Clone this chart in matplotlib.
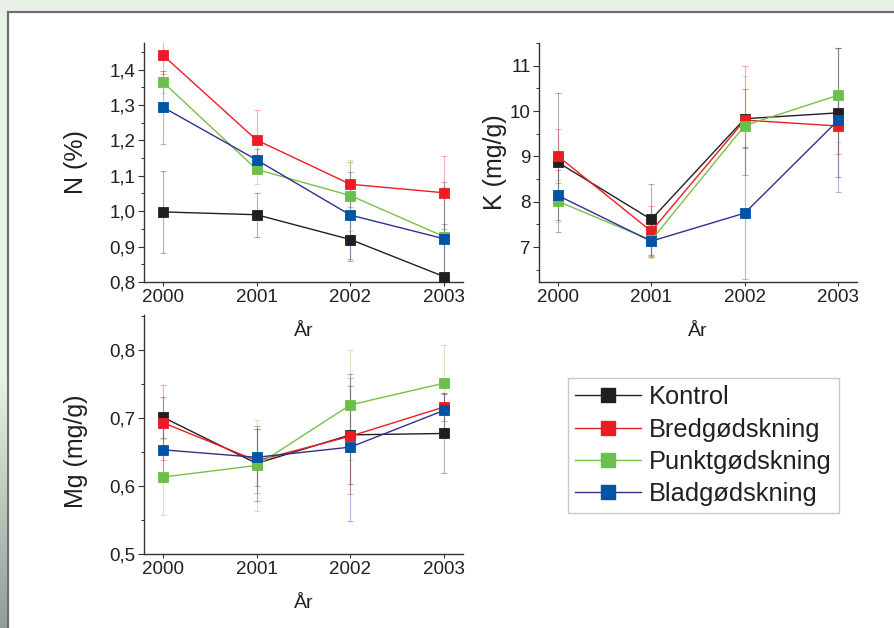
import numpy as np
import matplotlib
matplotlib.use("Agg")
import matplotlib.pyplot as plt
from matplotlib.patches import Rectangle
from matplotlib.lines import Line2D
from matplotlib.ticker import AutoMinorLocator, FuncFormatter, MultipleLocator

plt.rcParams['font.family'] = ['Liberation Sans', 'DejaVu Sans']

years = [2000, 2001, 2002, 2003]
series = ["Kontrol", "Bredgødskning", "Punktgødskning", "Bladgødskning"]
marker_colors = ["#231f20", "#ed1c24", "#6dbf4b", "#0054a6"]
line_colors = ["#231f20", "#ed1c24", "#7ac143", "#2e3192"]

# N (%)
n_vals = [[0.998, 0.990, 0.920, 0.815],
          [1.441, 1.201, 1.076, 1.052],
          [1.365, 1.118, 1.044, 0.928],
          [1.294, 1.145, 0.989, 0.922]]
n_err = [[0.115, 0.062, 0.060, 0.150],
         [0.053, 0.085, 0.064, 0.103],
         [0.030, 0.040, 0.100, 0.140],
         [0.103, 0.032, 0.123, 0.160]]

# K (mg/g)
k_vals = [[8.87, 7.61, 9.83, 9.96],
          [9.01, 7.35, 9.80, 9.67],
          [8.01, 7.15, 9.68, 10.35],
          [8.14, 7.13, 7.75, 9.80]]
k_err = [[1.53, 0.78, 0.65, 1.42],
         [0.60, 0.55, 1.20, 0.62],
         [0.46, 0.40, 1.10, 1.03],
         [0.55, 0.35, 1.45, 1.58]]

# Mg (mg/g)
mg_vals = [[0.701, 0.633, 0.675, 0.677],
           [0.693, 0.637, 0.673, 0.716],
           [0.613, 0.630, 0.719, 0.751],
           [0.653, 0.642, 0.657, 0.711]]
mg_err = [[0.030, 0.055, 0.072, 0.058],
          [0.055, 0.047, 0.085, 0.020],
          [0.056, 0.067, 0.081, 0.056],
          [0.047, 0.042, 0.108, 0.026]]

W, H = 895, 628
fig = plt.figure(figsize=(W / 100, H / 100), dpi=100)
fig.patch.set_facecolor("#e8f2e6")

# white panel with grey frame
fig.patches.append(Rectangle((8 / W, -0.01), 1.0, 1 - 12 / H + 0.01, transform=fig.transFigure,
                             facecolor="white", edgecolor="#6e6e6e", lw=1.6, zorder=-5))
# greyish texture on the left edge
strip = fig.add_axes([0, 0, 7 / W, 250 / H])
grad = np.linspace(0, 1, 100).reshape(-1, 1)
strip.imshow(grad, aspect="auto", cmap=matplotlib.colors.LinearSegmentedColormap.from_list(
    "s", ["#8f9e96", "#e8f2e6"]), origin="lower")
strip.axis("off")


def comma_fmt(dec):
    return FuncFormatter(lambda v, p: f"{v:.{dec}f}".replace(".", ","))


def panel(rect, vals, errs, ylim, ylabel, major, fmt, label_xy):
    ax = fig.add_axes(rect)
    ax.patch.set_alpha(0)
    for i in range(len(series)):
        ax.errorbar(years, vals[i], yerr=errs[i], fmt="none", ecolor=line_colors[i],
                    elinewidth=0.8, capsize=2, capthick=0.8, alpha=0.35, zorder=2)
        ax.plot(years, vals[i], color=line_colors[i], lw=1.0, marker="s", ms=6.5,
                mfc=marker_colors[i], mec=marker_colors[i], mew=0.6, zorder=3)
    ax.set_xlim(1999.8, 2003.2)
    ax.set_ylim(*ylim)
    ax.set_xticks(years)
    ax.yaxis.set_major_locator(MultipleLocator(major))
    ax.yaxis.set_minor_locator(AutoMinorLocator(2))
    if fmt is not None:
        ax.yaxis.set_major_formatter(fmt)
    for s in ["top", "right"]:
        ax.spines[s].set_visible(False)
    for s in ["left", "bottom"]:
        ax.spines[s].set_color("#333333")
        ax.spines[s].set_linewidth(1.0)
    ax.tick_params(axis="both", which="major", direction="out", length=4, width=0.8,
                   labelsize=13.5, colors="#333333", labelcolor="#231f20", pad=2)
    ax.tick_params(axis="y", which="minor", direction="out", length=2.5, width=0.7, colors="#333333")
    ax.tick_params(axis="x", which="major", length=3)
    ax.set_ylabel(ylabel, fontsize=18, color="#231f20")
    ax.yaxis.set_label_coords(*label_xy)
    ax.set_xlabel("År", fontsize=14, color="#231f20")
    ax.xaxis.set_label_coords(0.5, -0.17)
    return ax


panel([144 / W, 1 - 282 / H, 319 / W, 239 / H], n_vals, n_err, (0.8, 1.475),
      "N (%)", 0.1, comma_fmt(1), (-0.175, 0.5))
panel([539 / W, 1 - 282 / H, 318 / W, 239 / H], k_vals, k_err, (6.23, 11.5),
      "K (mg/g)", 1, None, (-0.1, 0.5))
panel([144 / W, 1 - 554 / H, 319 / W, 239 / H], mg_vals, mg_err, (0.5, 0.851),
      "Mg (mg/g)", 0.1, comma_fmt(1), (-0.175, 0.43))

handles = [Line2D([0], [0], color=line_colors[i], lw=1.0, marker="s", ms=10,
                  mfc=marker_colors[i], mec=marker_colors[i]) for i in range(len(series))]
leg = fig.legend(handles, series, loc="upper left", bbox_to_anchor=(568 / W, 1 - 378 / H),
                 bbox_transform=fig.transFigure, fontsize=18.3, frameon=True, fancybox=False,
                 edgecolor="#bbbbbb", borderaxespad=0, handlelength=2.6, handletextpad=0.3,
                 labelspacing=0.33, borderpad=0.28)
leg.get_frame().set_linewidth(1.0)
for t in leg.get_texts():
    t.set_color("#231f20")

fig.savefig("out.png", dpi=100, facecolor=fig.get_facecolor())
